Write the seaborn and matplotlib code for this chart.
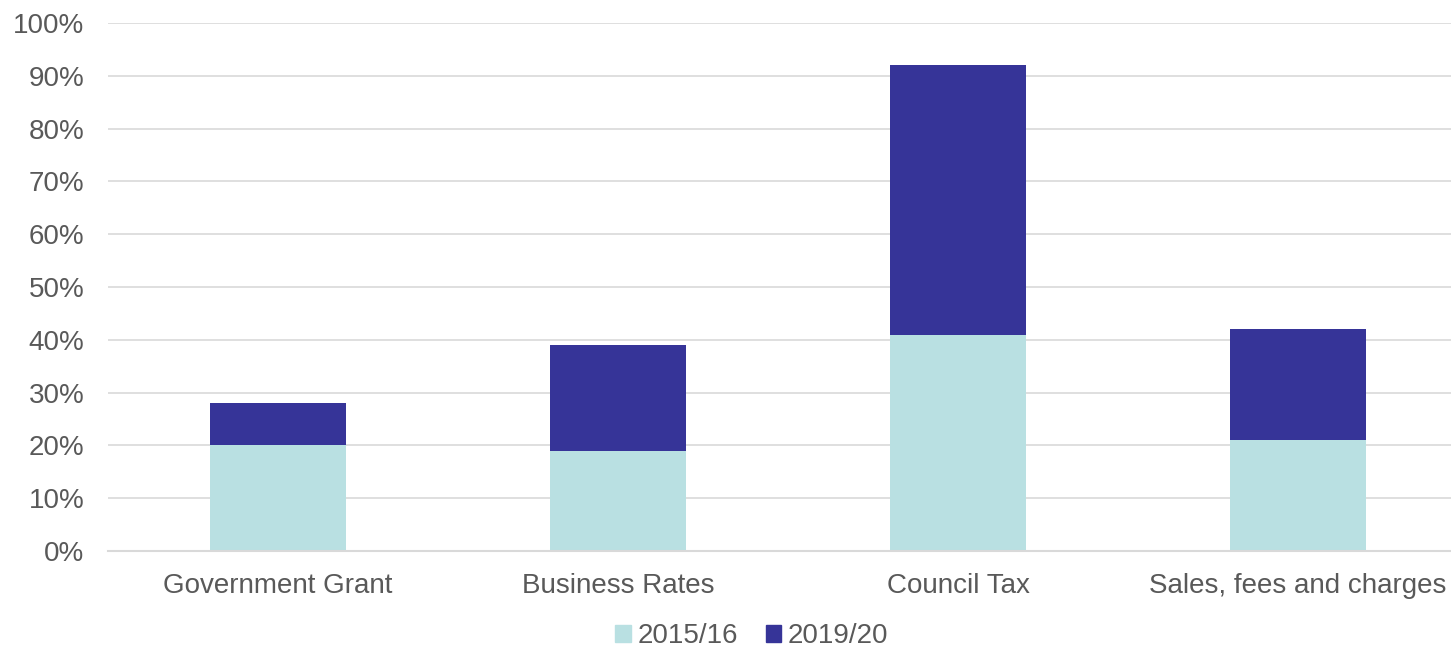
import pandas as pd
import seaborn as sns
import matplotlib.pyplot as plt
from matplotlib.patches import Patch
from matplotlib.ticker import PercentFormatter

categories = ['Government Grant', 'Business Rates', 'Council Tax', 'Sales, fees and charges']
share_2015 = [20, 19, 41, 21]
share_2019 = [8, 20, 51, 21]   # stacked on top of 2015/16

light = '#B9E0E2'
dark = '#363498'
grey = '#595959'

df = pd.DataFrame({'source': categories,
                   '2015/16': share_2015,
                   'total': [a + b for a, b in zip(share_2015, share_2019)]})

sns.set_style("white")
plt.rcParams['font.family'] = ['Liberation Sans', 'DejaVu Sans']

fig = plt.figure(figsize=(14.51, 6.51), dpi=100)
ax = fig.add_axes([108 / 1451, 100 / 651, 1360 / 1451, 528 / 651])

sns.barplot(x='source', y='total', data=df, color=dark, width=0.4,
            saturation=1, ax=ax, order=categories, zorder=2, linewidth=0)
sns.barplot(x='source', y='2015/16', data=df, color=light, width=0.4,
            saturation=1, ax=ax, order=categories, zorder=3, linewidth=0)

ax.set_xlim(-0.5, 3.5)
ax.set_ylim(0, 100)
ax.set_yticks(range(0, 101, 10))
ax.yaxis.set_major_formatter(PercentFormatter(decimals=0))
ax.grid(axis='y', color='#D9D9D9', linewidth=1.2, zorder=0)
ax.set_axisbelow(True)
for s in ['top', 'right', 'left']:
    ax.spines[s].set_visible(False)
ax.spines['bottom'].set_color('#D9D9D9')
ax.spines['bottom'].set_linewidth(1.5)
ax.spines['bottom'].set_zorder(4)
ax.set_xlabel('')
ax.set_ylabel('')
ax.tick_params(axis='both', length=0, labelsize=20, colors=grey)
ax.tick_params(axis='x', pad=16)
ax.tick_params(axis='y', pad=17)

handles = [Patch(color=light, label='2015/16'), Patch(color=dark, label='2019/20')]
fig.legend(handles=handles, loc='center', bbox_to_anchor=(752 / 1451, 1 - 636 / 651),
           ncol=2, frameon=False, fontsize=20, labelcolor=grey,
           handlelength=0.55, handleheight=0.55, handletextpad=0.25, columnspacing=1.0)

fig.savefig('out.png', dpi=100)
